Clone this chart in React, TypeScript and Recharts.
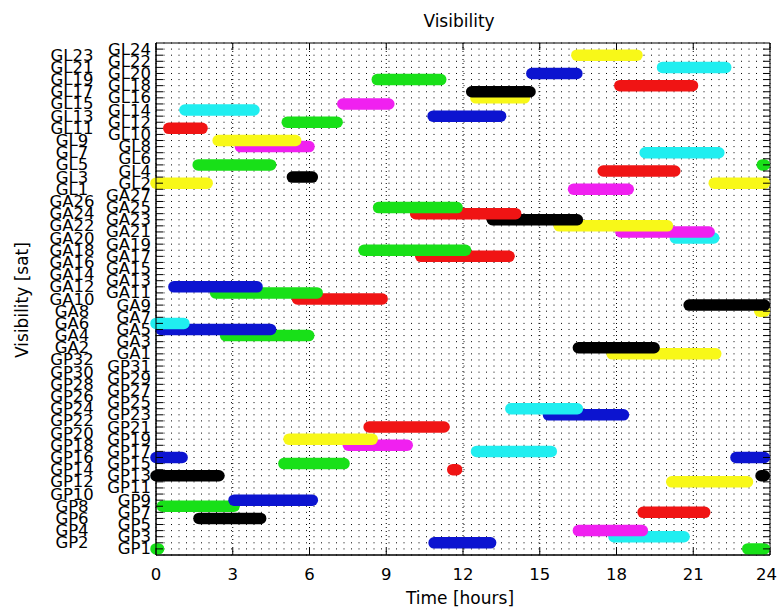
import React from 'react';
import { LineChart, Line, XAxis, YAxis, CartesianGrid, ReferenceArea } from 'recharts';

// Satellite labels, bottom row first
const gpsSats = ['GP1','GP2','GP3','GP4','GP5','GP6','GP7','GP8','GP9','GP10','GP11','GP12','GP13','GP14','GP15','GP16','GP17','GP18','GP19','GP20','GP21','GP22','GP23','GP24','GP25','GP26','GP27','GP28','GP29','GP30','GP31','GP32'];
const galileoSats = ['GA1','GA2','GA3','GA4','GA5','GA6','GA7','GA8','GA9','GA10','GA11','GA12','GA13','GA14','GA15','GA16','GA17','GA18','GA19','GA20','GA21','GA22','GA23','GA24','GA25','GA26','GA27'];
const glonassSats = ['GL1','GL2','GL3','GL4','GL5','GL6','GL7','GL8','GL9','GL10','GL11','GL12','GL13','GL14','GL15','GL16','GL17','GL18','GL19','GL20','GL21','GL22','GL23','GL24'];
const satellites = [...gpsSats, ...galileoSats, ...glonassSats];

const timeTicks = [0, 3, 6, 9, 12, 15, 18, 21, 24];

// Visibility windows: [satellite, start hour, end hour]
const gpsPasses: [string, number, number][] = [
  ['GP1', 0, 0.1], ['GP1', 23.13, 23.78],
  ['GP2', 10.87, 13.08],
  ['GP3', 17.9, 20.64],
  ['GP4', 16.51, 19.01],
  ['GP6', 1.68, 4.09],
  ['GP7', 19.04, 21.45],
  ['GP8', 0.25, 3.05],
  ['GP9', 3.05, 6.11],
  ['GP12', 20.16, 23.12],
  ['GP13', 0, 2.46], ['GP13', 23.65, 23.78],
  ['GP14', 11.6, 11.75],
  ['GP15', 5.0, 7.35],
  ['GP16', 0, 1.02], ['GP16', 22.67, 23.78],
  ['GP17', 12.53, 15.45],
  ['GP18', 7.52, 9.82],
  ['GP19', 5.2, 8.45],
  ['GP21', 8.33, 11.26],
  ['GP23', 15.34, 18.27],
  ['GP24', 13.87, 16.47],
];
const galileoPasses: [string, number, number][] = [
  ['GA1', 17.83, 21.88],
  ['GA2', 16.51, 19.47],
  ['GA4', 2.72, 5.97],
  ['GA5', 0.2, 4.48],
  ['GA6', 0, 1.09],
  ['GA8', 23.6, 23.78],
  ['GA9', 20.84, 23.78],
  ['GA10', 5.53, 8.84],
  ['GA11', 2.33, 6.3],
  ['GA12', 0.7, 3.95],
  ['GA17', 10.35, 13.8],
  ['GA18', 8.13, 12.1],
  ['GA20', 20.3, 21.8],
  ['GA21', 18.17, 21.62],
  ['GA22', 15.76, 19.99],
  ['GA23', 13.15, 16.47],
  ['GA24', 10.15, 14.06],
  ['GA25', 8.7, 11.77],
];
const glonassPasses: [string, number, number][] = [
  ['GL1', 16.32, 18.46],
  ['GL2', 0, 2.0], ['GL2', 21.82, 23.78],
  ['GL3', 5.33, 6.11],
  ['GL4', 17.48, 20.28],
  ['GL5', 1.65, 4.48], ['GL5', 23.7, 23.78],
  ['GL7', 19.12, 22.0],
  ['GL8', 3.3, 5.98],
  ['GL9', 2.43, 5.46],
  ['GL11', 0.5, 1.8],
  ['GL12', 5.13, 7.08],
  ['GL13', 10.83, 13.47],
  ['GL14', 1.13, 3.83],
  ['GL15', 7.3, 9.1],
  ['GL16', 12.5, 14.4],
  ['GL17', 12.34, 14.62],
  ['GL18', 18.13, 20.97],
  ['GL19', 8.65, 11.13],
  ['GL20', 14.69, 16.45],
  ['GL21', 19.8, 22.27],
  ['GL23', 16.45, 18.8],
];
const allPasses = [...gpsPasses, ...galileoPasses, ...glonassPasses];

const palette = ['#f01414', '#18e018', '#0c14d0', '#20eef0', '#f020f0', '#f8f818', '#000000'];

const W = 778;
const H = 611;
const PLOT = { left: 156, top: 43, width: 614, height: 512 };
const FONT = '"DejaVu Sans", sans-serif';

const rowTicks = satellites.map((_, i) => i + 1);

const YTick = (props: any) => {
  const { x, y, payload } = props;
  const row = payload.value as number;
  const label = satellites[row - 1];
  const odd = row % 2 === 1;
  return (
    <g>
      <line x1={x} x2={x + 7} y1={y} y2={y} stroke="#000" strokeWidth={1} />
      <line x1={x + PLOT.width - 7} x2={x + PLOT.width} y1={y} y2={y} stroke="#000" strokeWidth={1} />
      <text
        x={odd ? PLOT.left - 5 : 72}
        y={y}
        textAnchor={odd ? 'end' : 'middle'}
        dominantBaseline="central"
        fontSize={16.5}
        fontFamily={FONT}
        fill="#000"
      >
        {label}
      </text>
    </g>
  );
};

const XTick = (props: any) => {
  const { x, y, payload } = props;
  const isLast = payload.value === timeTicks[timeTicks.length - 1];
  return (
    <g>
      <line x1={x} x2={x} y1={y} y2={y - 7} stroke="#000" strokeWidth={1} />
      <line x1={x} x2={x} y1={PLOT.top} y2={PLOT.top + 7} stroke="#000" strokeWidth={1} />
      <text
        x={isLast ? W - 1 : x}
        y={y + 19}
        textAnchor={isLast ? 'end' : 'middle'}
        dominantBaseline="central"
        fontSize={16.5}
        fontFamily={FONT}
        fill="#000"
      >
        {payload.value}
      </text>
    </g>
  );
};

export default function App() {
  return (
    <div style={{ position: 'absolute', left: 0, top: 0, width: W, height: H, background: '#fff', overflow: 'hidden' }}>
      <LineChart
        width={W}
        height={H}
        margin={{ top: PLOT.top, right: W - PLOT.left - PLOT.width, bottom: 0, left: 0 }}
      >
        <CartesianGrid vertical={false} stroke="#000" strokeWidth={1} strokeDasharray="1 6.5" />
        <CartesianGrid horizontal={false} stroke="#000" strokeWidth={1} strokeDasharray="1 3" />
        <XAxis
          type="number"
          dataKey="t"
          domain={[0, 24]}
          ticks={timeTicks}
          interval={0}
          height={H - PLOT.top - PLOT.height}
          tickSize={0}
          tickMargin={0}
          tickLine={false}
          axisLine={{ stroke: '#000' }}
          tick={<XTick />}
        />
        <YAxis
          type="number"
          dataKey="row"
          domain={[0, 84]}
          ticks={rowTicks}
          interval={0}
          width={PLOT.left}
          tickSize={0}
          tickMargin={0}
          tickLine={false}
          axisLine={{ stroke: '#000' }}
          tick={<YTick />}
        />
        <ReferenceArea x1={0} x2={24} y1={0} y2={84} fill="none" stroke="#000" strokeWidth={1} ifOverflow="visible" />
        {allPasses.map(([sat, start, end], i) => {
          const row = satellites.indexOf(sat) + 1;
          return (
            <Line
              key={i}
              data={[{ t: start, row }, { t: end, row }]}
              dataKey="row"
              stroke={palette[row % 7]}
              strokeWidth={11.5}
              strokeLinecap="round"
              dot={false}
              activeDot={false}
              isAnimationActive={false}
              type="linear"
            />
          );
        })}
      </LineChart>
      <div style={{ position: 'absolute', left: 0, width: 918, top: 10, textAlign: 'center', fontFamily: FONT, fontSize: 17, lineHeight: '22px', color: '#000' }}>
        Visibility
      </div>
      <div style={{ position: 'absolute', left: 0, width: 920, top: 587, textAlign: 'center', fontFamily: FONT, fontSize: 17, lineHeight: '22px', color: '#000' }}>
        Time [hours]
      </div>
      <div style={{ position: 'absolute', left: 22 - 100, top: 300 - 11, width: 200, textAlign: 'center', fontFamily: FONT, fontSize: 17, lineHeight: '22px', color: '#000', transform: 'rotate(-90deg)' }}>
        Visibility [sat]
      </div>
    </div>
  );
}
